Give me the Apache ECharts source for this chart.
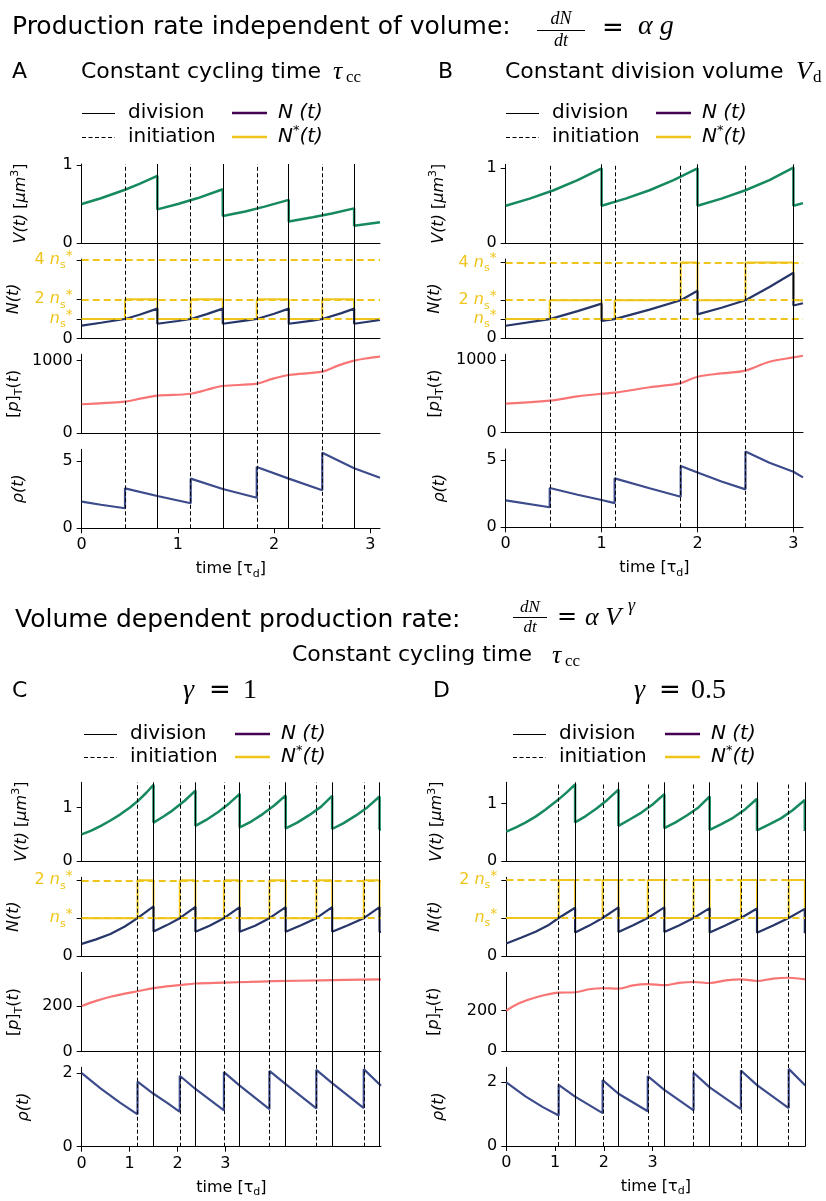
<!DOCTYPE html>
<html>
<head>
<meta charset="utf-8">
<script src="https://cdn.jsdelivr.net/npm/echarts@6.0.0/dist/echarts.min.js"></script>
<style>
  html, body { margin: 0; padding: 0; background: #fff; }
  #chart { width: 826px; height: 1201px; }
</style>
</head>
<body>
<div id="chart"></div>
<script>
// ---- data (time in units of tau_d) ----
var divA  = [0.786, 1.466, 2.152, 2.831];
var initA = [0.45, 1.133, 1.819, 2.50];
var volA  = [[0,0.50],[0.2,0.574],[0.45,0.683],[0.6,0.758],[0.786,0.862],[0.786,0.431],[1.0,0.50],[1.2,0.573],[1.466,0.689],[1.466,0.345],[1.7,0.405],[1.9,0.466],[2.152,0.553],[2.152,0.277],[2.4,0.329],[2.6,0.378],[2.831,0.444],[2.831,0.222],[3.1,0.267]];
var numA  = [[0,0.66],[0.2,0.81],[0.45,1.0],[0.6,1.22],[0.786,1.53],[0.786,0.76],[1.0,0.9],[1.133,1.0],[1.3,1.25],[1.466,1.53],[1.466,0.76],[1.7,0.92],[1.819,1.0],[2.0,1.27],[2.152,1.53],[2.152,0.76],[2.4,0.92],[2.5,1.0],[2.7,1.3],[2.831,1.53],[2.831,0.76],[3.1,0.95]];
var starA = [[0,1],[0.45,2],[0.786,1],[1.133,2],[1.466,1],[1.819,2],[2.152,1],[2.5,2],[2.831,1],[3.1,1]];
var ptA   = [[0,400],[0.45,435],[0.62,480],[0.786,518],[1.133,545],[1.3,600],[1.466,651],[1.819,683],[1.98,750],[2.152,803],[2.5,849],[2.67,935],[2.831,1000],[2.95,1030],[3.1,1055]];
var rhoA  = [[0,1.98],[0.2,1.75],[0.45,1.49],[0.45,2.97],[0.786,2.40],[1.133,1.86],[1.133,3.69],[1.466,2.92],[1.819,2.27],[1.819,4.55],[2.152,3.69],[2.5,2.83],[2.5,5.61],[2.831,4.46],[3.1,3.76]];

var divB  = [1.0, 2.0, 3.0];
var initB = [0.459, 1.136, 1.825, 2.50];
var volB  = [[0,0.5],[0.25,0.595],[0.5,0.707],[0.75,0.841],[1.0,1.0],[1.0,0.5],[1.25,0.595],[1.5,0.707],[1.75,0.841],[2.0,1.0],[2.0,0.5],[2.25,0.595],[2.5,0.707],[2.75,0.841],[3.0,1.01],[3.0,0.5],[3.1,0.536]];
var numB  = [[0,0.65],[0.459,1.0],[0.75,1.42],[1.0,1.82],[1.0,0.9],[1.136,1.0],[1.5,1.5],[1.825,2.0],[2.0,2.5],[2.0,1.25],[2.25,1.6],[2.5,2.0],[2.75,2.7],[3.0,3.45],[3.0,1.72],[3.1,1.84]];
var starB = [[0,1],[0.459,2],[1.0,1],[1.136,2],[1.825,4],[2.0,2],[2.5,4],[3.0,2],[3.1,2]];
var ptB   = [[0,400],[0.459,440],[0.75,500],[1.0,536],[1.136,550],[1.5,625],[1.825,682],[2.0,770],[2.25,815],[2.5,853],[2.75,975],[3.0,1035],[3.1,1058]];
var rhoB  = [[0,2.0],[0.459,1.49],[0.459,2.92],[0.75,2.42],[1.0,2.03],[1.136,1.80],[1.136,3.64],[1.5,2.9],[1.825,2.27],[1.825,4.55],[2.0,4.08],[2.25,3.4],[2.5,2.82],[2.5,5.64],[2.75,4.8],[3.0,4.13],[3.1,3.71]];

var divC  = [1.5, 2.375, 3.30, 4.26, 5.23, 6.22];
var initC = [1.166, 2.048, 2.97, 3.92, 4.90, 5.89];
var volC  = [[0,0.5],[0.2,0.57],[0.4,0.66],[0.6,0.76],[0.8,0.87],[1.0,1.0],[1.166,1.12],[1.35,1.28],[1.5,1.43],[1.5,0.72],[1.7,0.83],[1.9,0.95],[2.15,1.13],[2.375,1.32],[2.375,0.66],[2.6,0.77],[2.85,0.92],[3.08,1.08],[3.30,1.26],[3.30,0.63],[3.54,0.74],[3.78,0.88],[4.02,1.04],[4.26,1.23],[4.26,0.61],[4.5,0.72],[4.75,0.86],[5.0,1.02],[5.23,1.22],[5.23,0.60],[5.47,0.71],[5.72,0.85],[5.97,1.01],[6.22,1.21],[6.22,0.59],[6.25,0.59]];
var numC  = [[0,0.32],[0.3,0.44],[0.6,0.58],[0.9,0.78],[1.166,1.0],[1.5,1.31],[1.5,0.65],[1.77,0.81],[2.048,1.0],[2.375,1.30],[2.375,0.64],[2.67,0.8],[2.97,1.0],[3.30,1.29],[3.30,0.64],[3.62,0.8],[3.92,1.0],[4.26,1.29],[4.26,0.64],[4.58,0.81],[4.90,1.0],[5.23,1.29],[5.23,0.64],[5.56,0.81],[5.89,1.0],[6.22,1.29],[6.22,0.64],[6.25,0.64]];
var starC = [[0,1],[1.166,2],[1.5,1],[2.048,2],[2.375,1],[2.97,2],[3.30,1],[3.92,2],[4.26,1],[4.90,2],[5.23,1],[5.89,2],[6.22,1],[6.25,1]];
var ptC   = [[0,200],[0.3,222],[0.6,240],[0.9,254],[1.166,264],[1.5,278],[2.048,291],[2.375,298],[2.97,302],[3.5,305],[4.0,308],[5.0,312],[6.25,316]];
var rhoC  = [[0,2.0],[0.4,1.58],[0.8,1.2],[1.166,0.88],[1.166,1.77],[1.5,1.44],[1.8,1.18],[2.048,0.95],[2.048,1.93],[2.375,1.57],[2.97,0.99],[2.97,2.03],[3.30,1.66],[3.92,1.02],[3.92,2.06],[4.26,1.7],[4.90,1.04],[4.90,2.09],[5.23,1.73],[5.89,1.05],[5.89,2.11],[6.25,1.66]];

var divD  = [1.41, 2.30, 3.24, 4.17, 5.14, 6.12];
var initD = [1.074, 1.975, 2.90, 3.84, 4.81, 5.79];
var volD  = [[0,0.51],[0.2,0.585],[0.4,0.67],[0.6,0.77],[0.8,0.89],[1.074,1.07],[1.25,1.2],[1.41,1.33],[1.41,0.67],[1.63,0.78],[1.85,0.91],[2.07,1.06],[2.30,1.24],[2.30,0.61],[2.53,0.72],[2.77,0.84],[3.0,0.98],[3.24,1.16],[3.24,0.57],[3.47,0.67],[3.7,0.79],[3.94,0.93],[4.17,1.12],[4.17,0.54],[4.41,0.64],[4.65,0.75],[4.9,0.9],[5.14,1.08],[5.14,0.53],[5.38,0.63],[5.63,0.74],[5.87,0.88],[6.12,1.06],[6.12,0.52],[6.13,0.52]];
var numD  = [[0,0.33],[0.3,0.48],[0.6,0.64],[0.85,0.8],[1.074,1.0],[1.41,1.27],[1.41,0.62],[1.7,0.8],[1.975,1.0],[2.30,1.28],[2.30,0.63],[2.6,0.81],[2.90,1.0],[3.24,1.28],[3.24,0.63],[3.55,0.81],[3.84,1.0],[4.17,1.26],[4.17,0.62],[4.5,0.81],[4.81,1.0],[5.14,1.25],[5.14,0.61],[5.47,0.8],[5.79,1.0],[6.12,1.24],[6.12,0.6],[6.13,0.6]];
var starD = [[0,1],[1.074,2],[1.41,1],[1.975,2],[2.30,1],[2.90,2],[3.24,1],[3.84,2],[4.17,1],[4.81,2],[5.14,1],[5.79,2],[6.12,1],[6.13,1]];
var ptD   = [[0,200],[0.25,235],[0.5,258],[0.75,275],[1.074,289],[1.41,291],[1.7,306],[1.975,311],[2.30,309],[2.6,325],[2.90,331],[3.24,326],[3.54,338],[3.84,342],[4.17,337],[4.5,350],[4.81,355],[5.14,347],[5.47,359],[5.79,363],[6.13,355]];
var rhoD  = [[0,2.0],[0.4,1.55],[0.75,1.22],[1.074,0.96],[1.074,1.92],[1.41,1.55],[1.975,1.03],[1.975,2.07],[2.30,1.64],[2.90,1.09],[2.90,2.19],[3.24,1.76],[3.84,1.12],[3.84,2.30],[4.17,1.84],[4.81,1.16],[4.81,2.37],[5.14,1.91],[5.79,1.19],[5.79,2.42],[6.13,1.90]];

// tick labels / reference levels
var levelsAB = [1, 2, 4];
var levelsCD = [1, 2];
var ticksV = [0, 1];
var ticksNAB = [0, 1, 2, 4];
var ticksNCD = [0, 1, 2];
var ticksPAB = [0, 1000];
var ticksPCD = [0, 200];
var ticksRhoAB = [0, 5];
var ticksRhoCD = [0, 2];
var ticksTimeCD = [0, 1, 2, 3];

// ---- styling ----
var FONT = 'DejaVu Sans';
var SERIF = 'Liberation Serif';
var C_V = '#168a5e', C_N = '#273668', C_STAR = '#efc51b', C_P = '#f87575', C_RHO = '#3c4b8c', C_LEG_N = '#440154';

var panels = [
  { left: 81.7, width: 298.3, xMax: 3.1, xTicks: null,
    vol: volA, num: numA, star: starA, pt: ptA, rho: rhoA, div: divA, init: initA, levels: levelsAB,
    rows: [ {top:164, h:79, max:1.013, ticks:ticksV, gap:50},
            {top:259, h:79.7, max:4.05, ticks:ticksNAB, gap:57},
            {top:354.3, h:79, max:1088, ticks:ticksPAB, gap:57},
            {top:449.3, h:79, max:5.87, ticks:ticksRhoAB, gap:52} ] },
  { left: 505.7, width: 297.3, xMax: 3.1, xTicks: null,
    vol: volB, num: numB, star: starB, pt: ptB, rho: rhoB, div: divB, init: initB, levels: levelsAB,
    rows: [ {top:164.3, h:79, max:1.053, ticks:ticksV, gap:56},
            {top:259, h:79, max:4.18, ticks:ticksNAB, gap:60},
            {top:354.3, h:78.4, max:1078, ticks:ticksPAB, gap:60},
            {top:449, h:78.3, max:5.82, ticks:ticksRhoAB, gap:55} ] },
  { left: 81.7, width: 299.3, xMax: 6.25, xTicks: ticksTimeCD,
    vol: volC, num: numC, star: starC, pt: ptC, rho: rhoC, div: divC, init: initC, levels: levelsCD,
    rows: [ {top:782.3, h:78.7, max:1.476, ticks:ticksV, gap:49},
            {top:877.3, h:78.7, max:2.08, ticks:ticksNCD, gap:57},
            {top:972.3, h:79.4, max:347, ticks:ticksPCD, gap:57},
            {top:1067.3, h:79.4, max:2.16, ticks:ticksRhoCD, gap:47} ] },
  { left: 506.3, width: 299, xMax: 6.13, xTicks: ticksTimeCD,
    vol: volD, num: numD, star: starD, pt: ptD, rho: rhoD, div: divD, init: initD, levels: levelsCD,
    rows: [ {top:782.3, h:78.7, max:1.366, ticks:ticksV, gap:58},
            {top:877.3, h:78.7, max:2.07, ticks:ticksNCD, gap:60},
            {top:972.3, h:78.7, max:390, ticks:ticksPCD, gap:61},
            {top:1067.3, h:78.7, max:2.47, ticks:ticksRhoCD, gap:56} ] }
];

var yNames = [
  '{i|V(t)} [{i|μm}{sp|3}]',
  '{i|N(t)}',
  '[{i|p}]{sb|T}({i|t})',
  '{i|ρ(t)}'
];

var nameRich = {
  i:  { fontFamily: FONT, fontStyle: 'italic', fontSize: 16, color: '#000', lineHeight: 22 },
  sp: { fontFamily: FONT, fontSize: 11, color: '#000', verticalAlign: 'top', lineHeight: 12 },
  sb: { fontFamily: FONT, fontSize: 11, color: '#000', verticalAlign: 'bottom', lineHeight: 12 }
};

var nRich = {
  k:  { fontFamily: FONT, fontSize: 16, color: '#000' },
  n:  { fontFamily: FONT, fontSize: 16, color: C_STAR, lineHeight: 22 },
  ni: { fontFamily: FONT, fontSize: 16, color: C_STAR, fontStyle: 'italic', lineHeight: 22 },
  sb: { fontFamily: FONT, fontSize: 11, color: C_STAR, verticalAlign: 'bottom', lineHeight: 11 },
  sp: { fontFamily: FONT, fontSize: 14, color: C_STAR, verticalAlign: 'top', lineHeight: 13 }
};

function nLabel(v) {
  if (v === 0) return '{k|0}';
  return (v === 1 ? '' : '{n|' + v + ' }') + '{ni|n}{sb|s}{sp|*}';
}
function plainLabel(v) { return String(v); }

var grids = [], xAxes = [], yAxes = [], series = [];

panels.forEach(function (p) {
  p.rows.forEach(function (r, ri) {
    var gi = grids.length;
    var last = ri === 3;
    grids.push({ left: p.left, top: r.top, width: p.width, height: r.h });
    var xa = {
      type: 'value', gridIndex: gi, min: 0, max: p.xMax,
      axisLine: { show: true, onZero: false, lineStyle: { color: '#000', width: 1 } },
      axisTick: { show: last, length: 5, lineStyle: { color: '#000' } },
      axisLabel: { show: last, margin: 9, fontSize: 16, fontFamily: FONT, color: '#000', formatter: plainLabel },
      splitLine: { show: false }
    };
    if (p.xTicks) {
      xa.axisTick.customValues = p.xTicks;
      xa.axisLabel.customValues = p.xTicks;
    } else {
      xa.interval = 1;
    }
    if (last) {
      xa.name = 'time [{i|τ}{sb|d}]';
      xa.nameLocation = 'middle';
      xa.nameGap = 31;
      xa.nameTextStyle = { fontSize: 16, fontFamily: FONT, color: '#000', rich: {
        i:  { fontFamily: FONT, fontSize: 16, color: '#000', lineHeight: 20 },
        sb: { fontFamily: FONT, fontSize: 11, color: '#000', verticalAlign: 'bottom', lineHeight: 12 }
      } };
    }
    xAxes.push(xa);
    yAxes.push({
      type: 'value', gridIndex: gi, min: 0, max: r.max,
      axisLine: { show: true, lineStyle: { color: '#000', width: 1 } },
      axisTick: { show: true, length: 5, customValues: r.ticks, lineStyle: { color: '#000' } },
      axisLabel: { customValues: r.ticks, margin: 9, fontSize: 16, fontFamily: FONT, color: '#000',
                   formatter: ri === 1 ? nLabel : plainLabel, rich: ri === 1 ? nRich : undefined },
      splitLine: { show: false },
      name: yNames[ri], nameLocation: 'middle', nameRotate: 90, nameGap: r.gap,
      nameTextStyle: { fontSize: 16, fontFamily: FONT, color: '#000', rich: nameRich }
    });
    var base = { xAxisIndex: gi, yAxisIndex: gi, type: 'line', symbol: 'none', silent: true, animation: false, z: 4 };
    if (ri === 0) {
      series.push(Object.assign({}, base, { data: p.vol, lineStyle: { color: C_V, width: 2.5 } }));
    } else if (ri === 1) {
      series.push(Object.assign({}, base, { data: [], z: 2,
        markLine: { silent: true, symbol: ['none', 'none'], label: { show: false }, animation: false,
          lineStyle: { color: C_STAR, width: 2, type: [7, 4] },
          data: p.levels.map(function (v) { return { yAxis: v }; }) } }));
      series.push(Object.assign({}, base, { data: p.star, step: 'end', z: 3, lineStyle: { color: C_STAR, width: 2 } }));
      series.push(Object.assign({}, base, { data: p.num, lineStyle: { color: C_N, width: 2.2 } }));
    } else if (ri === 2) {
      series.push(Object.assign({}, base, { data: p.pt, smooth: 0.35, lineStyle: { color: C_P, width: 2.2 } }));
    } else {
      series.push(Object.assign({}, base, { data: p.rho, lineStyle: { color: C_RHO, width: 2.2 } }));
    }
  });

  // overlay grid holding the division / initiation lines through all four rows
  var top = p.rows[0].top, bottom = p.rows[3].top + p.rows[3].h;
  var oi = grids.length;
  grids.push({ left: p.left, top: top, width: p.width, height: bottom - top });
  xAxes.push({ type: 'value', gridIndex: oi, min: 0, max: p.xMax, show: false });
  yAxes.push({ type: 'value', gridIndex: oi, min: 0, max: 1, show: false });
  series.push({ type: 'line', xAxisIndex: oi, yAxisIndex: oi, data: [], silent: true, animation: false, z: 1,
    markLine: { silent: true, symbol: ['none', 'none'], label: { show: false }, animation: false,
      lineStyle: { color: '#000', width: 1, type: 'solid' },
      data: p.div.map(function (t) { return { xAxis: t }; }) } });
  series.push({ type: 'line', xAxisIndex: oi, yAxisIndex: oi, data: [], silent: true, animation: false, z: 1,
    markLine: { silent: true, symbol: ['none', 'none'], label: { show: false }, animation: false,
      lineStyle: { color: '#000', width: 1, type: [4, 2.5] },
      data: p.init.map(function (t) { return { xAxis: t }; }) } });
});

// ---- titles, math and legends as graphic elements ----
function txt(x, y, s, size, opts) {
  opts = opts || {};
  return { type: 'text', x: x, y: y, silent: true, style: {
    text: s, fill: opts.fill || '#000',
    font: (opts.italic ? 'italic ' : '') + size + 'px "' + (opts.family || FONT) + '"',
    align: opts.align || 'left', textAlign: opts.align || 'left',
    verticalAlign: 'middle', textVerticalAlign: 'middle',
    rich: opts.rich
  } };
}
function seg(x1, y1, x2, y2, color, w, dash) {
  return { type: 'line', silent: true, shape: { x1: x1, y1: y1, x2: x2, y2: y2 },
    style: { stroke: color, lineWidth: w, lineDash: dash || null } };
}
function legend(x0, xN, y1, y2) {
  var legRich = {
    i:  { fontFamily: FONT, fontStyle: 'italic', fontSize: 20, fill: '#000', color: '#000', lineHeight: 26 },
    sp: { fontFamily: FONT, fontSize: 13, fill: '#000', color: '#000', verticalAlign: 'top', lineHeight: 12 }
  };
  return [
    seg(x0, y1 + 0.5, x0 + 33, y1 + 0.5, '#000', 1.2),
    txt(x0 + 46, y1, 'division', 20),
    seg(x0, y2 + 0.5, x0 + 33, y2 + 0.5, '#000', 1.2, [4, 2.5]),
    txt(x0 + 46, y2, 'initiation', 20),
    seg(xN, y1, xN + 35, y1, C_LEG_N, 2.5),
    txt(xN + 46, y1, 'N (t)', 20, { italic: true }),
    seg(xN, y2, xN + 35, y2, C_STAR, 2.5),
    txt(xN + 46, y2, '{i|N}{sp|*}{i|(t)}', 20, { rich: legRich })
  ];
}

var graphics = [
  txt(12, 27, 'Production rate independent of volume:', 25),
  txt(561, 19, 'dN', 18, { italic: true, family: SERIF, align: 'center' }),
  seg(537, 30.5, 585, 30.5, '#000', 1),
  txt(561, 41, 'dt', 18, { italic: true, family: SERIF, align: 'center' }),
  txt(613, 29, '=', 26, { align: 'center' }),
  txt(638, 27, 'α g', 28, { italic: true, family: SERIF }),

  txt(12, 72, 'A', 22),
  txt(81, 72, 'Constant cycling time', 22),
  txt(333, 72, 'τ', 26, { italic: true, family: SERIF }),
  txt(346, 78, 'cc', 17, { family: SERIF }),
  txt(438, 72, 'B', 22),
  txt(505, 72, 'Constant division volume', 22),
  txt(796, 72, 'V', 26, { italic: true, family: SERIF }),
  txt(813, 78, 'd', 17, { family: SERIF }),

  txt(15, 620, 'Volume dependent production rate:', 25),
  txt(530, 608, 'dN', 17, { italic: true, family: SERIF, align: 'center' }),
  seg(513, 617.5, 547, 617.5, '#000', 1),
  txt(530, 628, 'dt', 17, { italic: true, family: SERIF, align: 'center' }),
  txt(567, 618, '=', 24, { align: 'center' }),
  txt(585, 618, 'α V', 26, { italic: true, family: SERIF }),
  txt(628, 606, 'γ', 18, { italic: true, family: SERIF }),
  txt(292, 655, 'Constant cycling time', 22),
  txt(552, 656, 'τ', 26, { italic: true, family: SERIF }),
  txt(565, 662, 'cc', 17, { family: SERIF }),

  txt(12, 691, 'C', 22),
  txt(183, 691, 'γ', 28, { italic: true, family: SERIF }),
  txt(220, 691, '=', 26, { align: 'center' }),
  txt(243, 691, '1', 28, { family: SERIF }),
  txt(433, 691, 'D', 22),
  txt(634, 691, 'γ', 28, { italic: true, family: SERIF }),
  txt(670, 691, '=', 26, { align: 'center' }),
  txt(691, 691, '0.5', 28, { family: SERIF })
];
graphics = graphics
  .concat(legend(82, 232, 113, 137))
  .concat(legend(506, 656, 113, 137))
  .concat(legend(84, 235, 734, 757))
  .concat(legend(513, 665, 734, 757));

var chart = echarts.init(document.getElementById('chart'), null, { width: 826, height: 1201, renderer: 'canvas' });
chart.setOption({
  backgroundColor: '#fff',
  animation: false,
  grid: grids,
  xAxis: xAxes,
  yAxis: yAxes,
  series: series,
  graphic: { elements: graphics }
});
</script>
</body>
</html>
